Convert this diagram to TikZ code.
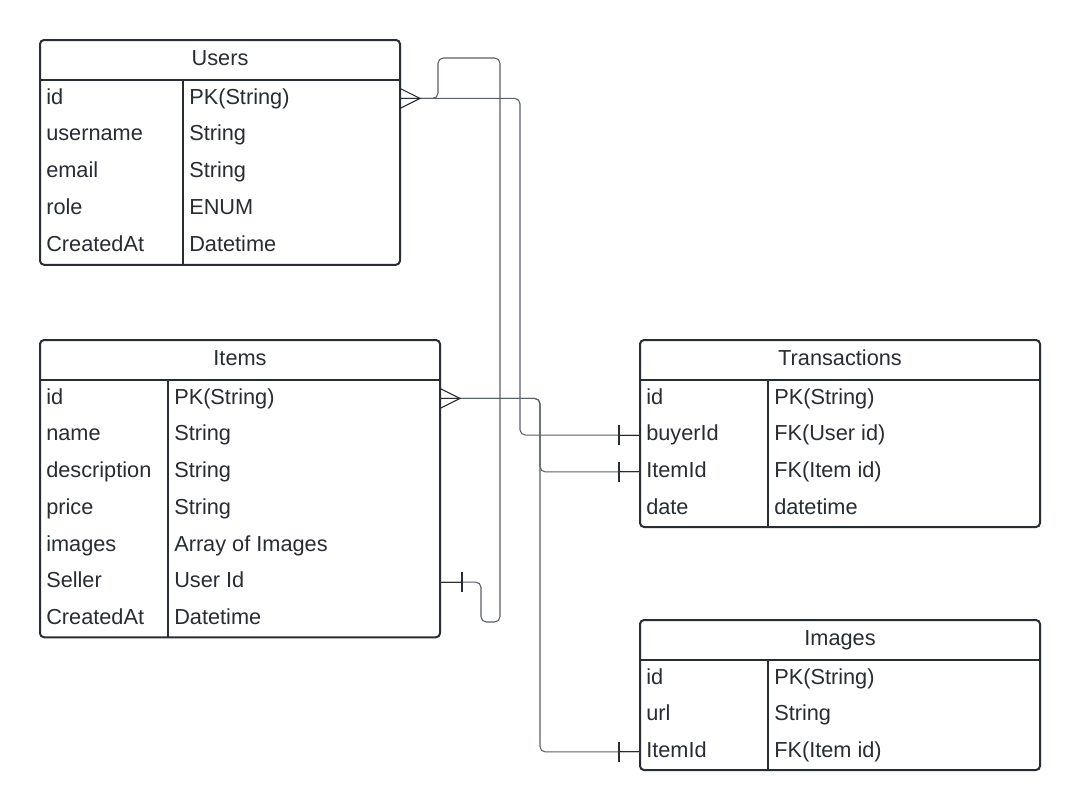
\documentclass[tikz,border=0pt]{standalone}
\usepackage{fontspec}
\setmainfont{Liberation Sans}
\usetikzlibrary{calc}
\definecolor{ink}{HTML}{282C33}
\definecolor{wire}{HTML}{5A6069}
\tikzset{
  tblbox/.style={draw=ink, line width=1.5pt, rounded corners=3pt},
  tblline/.style={draw=ink, line width=1.5pt},
  lbl/.style={anchor=base west, inner sep=0pt, text=ink, font=\fontsize{16.3}{19}\selectfont},
  ttl/.style={anchor=base, inner sep=0pt, text=ink, font=\fontsize{16.3}{19}\selectfont},
  conn/.style={draw=wire, line width=0.8pt, rounded corners=4pt},
  endmark/.style={draw=ink, line width=0.8pt},
}
\begin{document}
\begin{tikzpicture}[x=0.75pt,y=-0.75pt]
\useasboundingbox (0,0) rectangle (1080,811);
\fill[white] (0,0) rectangle (1080,811);

% ---------- Users ----------
\draw[tblbox] (40,40) rectangle (400,264.75);
\draw[tblline] (40,80) -- (400,80);
\draw[tblline] (183,80) -- (183,264.75);
\node[ttl] (usersT) at (220,65) {Users};
\node[lbl] (u1a) at (46,104) {id};        \node[lbl] (u1b) at (189,104) {PK(String)};
\node[lbl] (u2a) at (46,140.75) {username};  \node[lbl] (u2b) at (189,140.75) {String};
\node[lbl] (u3a) at (46,177.5) {email};     \node[lbl] (u3b) at (189,177.5) {String};
\node[lbl] (u4a) at (46,214.25) {role};      \node[lbl] (u4b) at (189,214.25) {ENUM};
\node[lbl] (u5a) at (46,251) {CreatedAt}; \node[lbl] (u5b) at (189,251) {Datetime};

% ---------- Items ----------
\draw[tblbox] (40,340) rectangle (440,637.25);
\draw[tblline] (40,380) -- (440,380);
\draw[tblline] (168,380) -- (168,637.25);
\node[ttl] (itemsT) at (240,365) {Items};
\node[lbl] (i1a) at (46,404) {id};          \node[lbl] (i1b) at (174,404) {PK(String)};
\node[lbl] (i2a) at (46,440.75) {name};        \node[lbl] (i2b) at (174,440.75) {String};
\node[lbl] (i3a) at (46,477.5) {description}; \node[lbl] (i3b) at (174,477.5) {String};
\node[lbl] (i4a) at (46,514.25) {price};       \node[lbl] (i4b) at (174,514.25) {String};
\node[lbl] (i5a) at (46,551) {images};      \node[lbl] (i5b) at (174,551) {Array of Images};
\node[lbl] (i6a) at (46,587.75) {Seller};      \node[lbl] (i6b) at (174,587.75) {User Id};
\node[lbl] (i7a) at (46,624.5) {CreatedAt};   \node[lbl] (i7b) at (174,624.5) {Datetime};

% ---------- Transactions ----------
\draw[tblbox] (640,340) rectangle (1040,527);
\draw[tblline] (640,380) -- (1040,380);
\draw[tblline] (768,380) -- (768,527);
\node[ttl] (transT) at (840,365) {Transactions};
\node[lbl] (t1a) at (646,404) {id};      \node[lbl] (t1b) at (774,404) {PK(String)};
\node[lbl] (t2a) at (646,440.75) {buyerId}; \node[lbl] (t2b) at (774,440.75) {FK(User id)};
\node[lbl] (t3a) at (646,477.5) {ItemId};  \node[lbl] (t3b) at (774,477.5) {FK(Item id)};
\node[lbl] (t4a) at (646,514.25) {date};    \node[lbl] (t4b) at (774,514.25) {datetime};

% ---------- Images ----------
\draw[tblbox] (640,620) rectangle (1040,770);
\draw[tblline] (640,660) -- (1040,660);
\draw[tblline] (768,660) -- (768,770);
\node[ttl] (imgT) at (840,645) {Images};
\node[lbl] (m1a) at (646,684) {id};     \node[lbl] (m1b) at (774,684) {PK(String)};
\node[lbl] (m2a) at (646,720.75) {url};    \node[lbl] (m2b) at (774,720.75) {String};
\node[lbl] (m3a) at (646,757.5) {ItemId}; \node[lbl] (m3b) at (774,757.5) {FK(Item id)};

% ---------- connection points ----------
\coordinate (usersId) at (400,98.4);
\coordinate (itemsId) at (440,398.4);
\coordinate (itemsSeller) at (440,582.1);
\coordinate (transBuyer) at (640,435.1);
\coordinate (transItem) at (640,471.9);
\coordinate (imgItem) at (640,751.9);

% ---------- connectors ----------
% Users.id -> Transactions.buyerId
\draw[conn] (usersId) -- (520,98.4) -- (520,435.1) -- (transBuyer);
% Users.id -> Items.Seller
\draw[conn] (usersId) -- (438,98.4) -- (438,58) -- (500,58) -- (500,622) -- (481,622) -- (481,582.1) -- (itemsSeller);
% Items.id -> Transactions.ItemId
\draw[conn] (itemsId) -- (540,398.4) -- (540,471.9) -- (transItem);
% Items.id -> Images.ItemId
\draw[conn] (itemsId) -- (540,398.4) -- (540,751.9) -- (imgItem);

% crow's feet
\draw[endmark] ([shift={(0,-10)}]usersId) -- ([shift={(20,0)}]usersId) -- ([shift={(0,10)}]usersId);
\draw[endmark] (usersId) -- ([shift={(20,0)}]usersId);
\draw[endmark] ([shift={(0,-10)}]itemsId) -- ([shift={(20,0)}]itemsId) -- ([shift={(0,10)}]itemsId);
\draw[endmark] (itemsId) -- ([shift={(20,0)}]itemsId);

% single bars
\draw[endmark] ([shift={(-21,-10)}]transBuyer) -- ([shift={(-21,10)}]transBuyer);
\draw[endmark] ([shift={(-21,0)}]transBuyer) -- (transBuyer);
\draw[endmark] ([shift={(-21,-10)}]transItem) -- ([shift={(-21,10)}]transItem);
\draw[endmark] ([shift={(-21,0)}]transItem) -- (transItem);
\draw[endmark] ([shift={(-21,-10)}]imgItem) -- ([shift={(-21,10)}]imgItem);
\draw[endmark] ([shift={(-21,0)}]imgItem) -- (imgItem);
\draw[endmark] ([shift={(22,-10)}]itemsSeller) -- ([shift={(22,10)}]itemsSeller);
\draw[endmark] ([shift={(22,0)}]itemsSeller) -- (itemsSeller);
\end{tikzpicture}
\end{document}
